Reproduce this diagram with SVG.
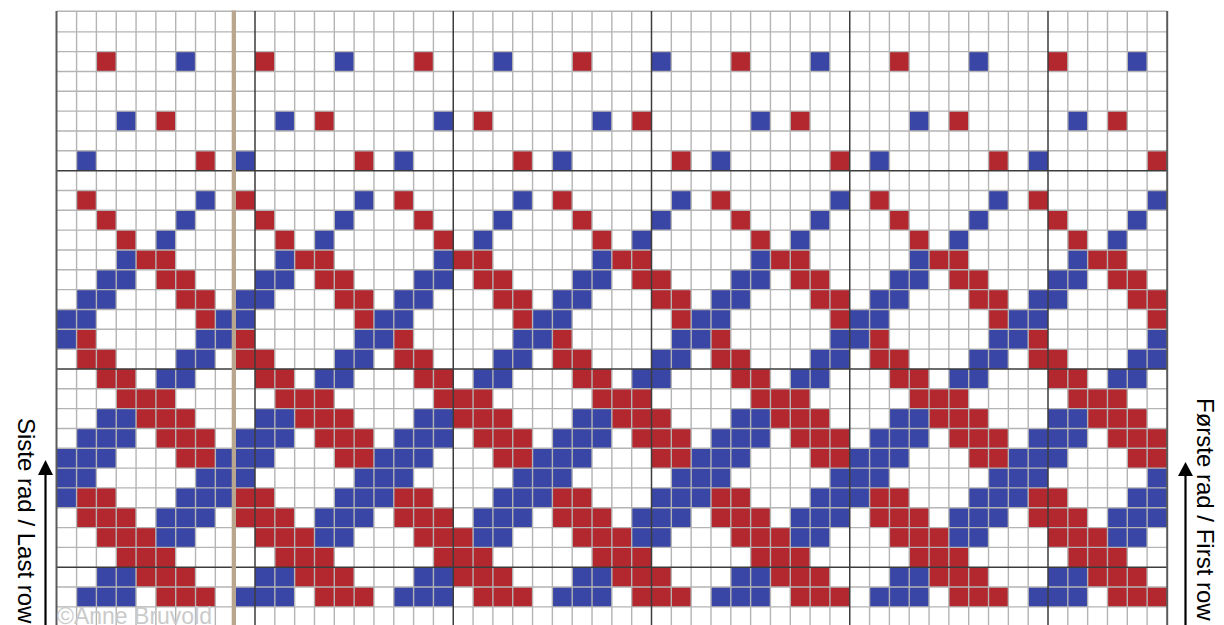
<svg xmlns="http://www.w3.org/2000/svg" xmlns:xlink="http://www.w3.org/1999/xlink" width="1224" height="625" viewBox="0 0 1224 625">
<style>
.r{fill:#b3272f}
.b{fill:#3a46a5}
.lt{fill:none;stroke:#b4b4b4;stroke-width:1.4}
.dk{fill:none;stroke:#3c3c3c;stroke-width:1.5}
.lbl{font-family:"Liberation Sans",Arial,sans-serif;font-size:24px;fill:#000}
</style>
<defs>
<g id="tile" transform="scale(19.825 19.83)">
<rect class="r" x="2" y="2" width="1" height="1"/><rect class="b" x="6" y="2" width="1" height="1"/>
<rect class="b" x="3" y="5" width="1" height="1"/><rect class="r" x="5" y="5" width="1" height="1"/>
<rect class="b" x="1" y="7" width="1" height="1"/><rect class="r" x="7" y="7" width="1" height="1"/>
<rect class="r" x="1" y="9" width="1" height="1"/><rect class="b" x="7" y="9" width="1" height="1"/>
<rect class="r" x="2" y="10" width="1" height="1"/><rect class="b" x="6" y="10" width="1" height="1"/>
<rect class="r" x="3" y="11" width="1" height="1"/><rect class="b" x="5" y="11" width="1" height="1"/>
<rect class="b" x="3" y="12" width="1" height="1"/><rect class="r" x="4" y="12" width="2" height="1"/>
<rect class="b" x="2" y="13" width="2" height="1"/><rect class="r" x="5" y="13" width="2" height="1"/>
<rect class="b" x="1" y="14" width="2" height="1"/><rect class="r" x="6" y="14" width="2" height="1"/>
<rect class="b" x="0" y="15" width="2" height="1"/><rect class="r" x="7" y="15" width="1" height="1"/>
<rect class="b" x="0" y="16" width="1" height="1"/><rect class="r" x="1" y="16" width="1" height="1"/><rect class="b" x="7" y="16" width="1" height="1"/>
<rect class="r" x="1" y="17" width="2" height="1"/><rect class="b" x="6" y="17" width="2" height="1"/>
<rect class="r" x="2" y="18" width="2" height="1"/><rect class="b" x="5" y="18" width="2" height="1"/>
<rect class="r" x="3" y="19" width="3" height="1"/>
<rect class="b" x="2" y="20" width="2" height="1"/><rect class="r" x="4" y="20" width="3" height="1"/>
<rect class="b" x="1" y="21" width="3" height="1"/><rect class="r" x="5" y="21" width="3" height="1"/>
<rect class="b" x="0" y="22" width="3" height="1"/><rect class="r" x="6" y="22" width="2" height="1"/>
<rect class="b" x="0" y="23" width="2" height="1"/><rect class="b" x="7" y="23" width="1" height="1"/>
<rect class="b" x="0" y="24" width="1" height="1"/><rect class="r" x="1" y="24" width="2" height="1"/><rect class="b" x="6" y="24" width="2" height="1"/>
<rect class="r" x="1" y="25" width="3" height="1"/><rect class="b" x="5" y="25" width="3" height="1"/>
<rect class="r" x="2" y="26" width="3" height="1"/><rect class="b" x="5" y="26" width="2" height="1"/>
<rect class="r" x="3" y="27" width="3" height="1"/>
<rect class="b" x="2" y="28" width="2" height="1"/><rect class="r" x="4" y="28" width="3" height="1"/>
<rect class="b" x="1" y="29" width="3" height="1"/><rect class="r" x="5" y="29" width="3" height="1"/>
</g>
</defs>
<rect x="0" y="0" width="1224" height="625" fill="#fff"/>
<g id="cells">
<use xlink:href="#tile" href="#tile" transform="translate(56.75 12)"/>
<use xlink:href="#tile" href="#tile" transform="translate(215.35 12)"/>
<use xlink:href="#tile" href="#tile" transform="translate(373.95 12)"/>
<use xlink:href="#tile" href="#tile" transform="translate(532.55 12)"/>
<use xlink:href="#tile" href="#tile" transform="translate(691.15 12)"/>
<use xlink:href="#tile" href="#tile" transform="translate(849.75 12)"/>
<use xlink:href="#tile" href="#tile" transform="translate(1008.35 12)"/>
</g>
<g id="grid">
<path class="lt" d="M76.575 11V625M96.4 11V625M116.225 11V625M136.05 11V625M155.875 11V625M175.7 11V625M195.525 11V625M215.35 11V625M235.175 11V625
M274.825 11V625M294.65 11V625M314.475 11V625M334.3 11V625M354.125 11V625M373.95 11V625M393.775 11V625M413.6 11V625M433.425 11V625
M473.075 11V625M492.9 11V625M512.725 11V625M532.55 11V625M552.375 11V625M572.2 11V625M592.025 11V625M611.85 11V625M631.675 11V625
M671.325 11V625M691.15 11V625M710.975 11V625M730.8 11V625M750.625 11V625M770.45 11V625M790.275 11V625M810.1 11V625M829.925 11V625
M869.575 11V625M889.4 11V625M909.225 11V625M929.05 11V625M948.875 11V625M968.7 11V625M988.525 11V625M1008.35 11V625M1028.175 11V625
M1067.825 11V625M1087.65 11V625M1107.475 11V625M1127.3 11V625M1147.125 11V625
M56.75 11.3H1166.95M56.75 31.83H1166.95M56.75 51.66H1166.95M56.75 71.49H1166.95M56.75 91.32H1166.95M56.75 111.15H1166.95M56.75 130.98H1166.95M56.75 150.81H1166.95
M56.75 190.47H1166.95M56.75 210.3H1166.95M56.75 230.13H1166.95M56.75 249.96H1166.95M56.75 269.79H1166.95M56.75 289.62H1166.95M56.75 309.45H1166.95M56.75 329.28H1166.95M56.75 349.11H1166.95
M56.75 388.77H1166.95M56.75 408.6H1166.95M56.75 428.43H1166.95M56.75 448.26H1166.95M56.75 468.09H1166.95M56.75 487.92H1166.95M56.75 507.75H1166.95M56.75 527.58H1166.95M56.75 547.41H1166.95
M56.75 587.07H1166.95M56.75 606.9H1166.95"/>
<path class="dk" d="M255 11V625M453.25 11V625M651.5 11V625M849.75 11V625M1048 11V625
M56.75 170.64H1166.95M56.75 368.94H1166.95M56.75 567.24H1166.95"/>
<path d="M56.5 11V625M1167.2 11V625" fill="none" stroke="#5a5a5a" stroke-width="2"/>
<rect x="231.7" y="10.5" width="4.3" height="615" fill="#b8a68f"/>
</g>
<text x="57" y="624" font-family="'Liberation Sans',Arial,sans-serif" font-size="23" fill="#cacaca">©Anne Bruvold</text>
<g id="left-label">
<text class="lbl" transform="translate(18 418) rotate(90)">Siste rad / Last row</text>
<path d="M45.5 625V472" stroke="#000" stroke-width="2.2" fill="none"/>
<polygon points="45.5,460 38,475 53,475" fill="#000"/>
</g>
<g id="right-label">
<text class="lbl" transform="translate(1197 398) rotate(90)">Første rad / First row</text>
<path d="M1185.5 625V474" stroke="#000" stroke-width="2.2" fill="none"/>
<polygon points="1185.5,462 1178,476 1193,476" fill="#000"/>
</g>
</svg>
